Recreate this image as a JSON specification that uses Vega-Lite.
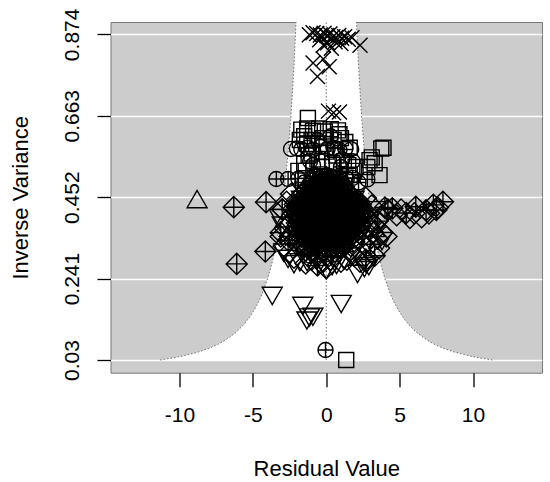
{
  "$schema": "https://vega.github.io/schema/vega-lite/v6.json",
  "width": 431.5,
  "height": 350.7,
  "autosize": "none",
  "padding": {"left": 110.5, "top": 22, "right": 8, "bottom": 109.3},
  "config": {
    "view": {"fill": "#cccccc", "stroke": "#777777", "strokeWidth": 1},
    "font": "Liberation Sans",
    "axis": {
      "labelFont": "Liberation Sans",
      "labelFontSize": 21,
      "labelColor": "#000000",
      "titleFont": "Liberation Sans",
      "titleFontSize": 22,
      "titleFontWeight": "normal",
      "titleColor": "#000000",
      "tickColor": "#000000",
      "tickWidth": 1.3,
      "domain": false
    }
  },
  "datasets": {
    "funnel": [
      {"fy": 0.03, "lo": -11.316, "hi": 11.316},
      {"fy": 0.035, "lo": -10.477, "hi": 10.477},
      {"fy": 0.04, "lo": -9.8, "hi": 9.8},
      {"fy": 0.05, "lo": -8.765, "hi": 8.765},
      {"fy": 0.06, "lo": -8.002, "hi": 8.002},
      {"fy": 0.07, "lo": -7.408, "hi": 7.408},
      {"fy": 0.08, "lo": -6.93, "hi": 6.93},
      {"fy": 0.1, "lo": -6.198, "hi": 6.198},
      {"fy": 0.12, "lo": -5.658, "hi": 5.658},
      {"fy": 0.14, "lo": -5.238, "hi": 5.238},
      {"fy": 0.16, "lo": -4.9, "hi": 4.9},
      {"fy": 0.18, "lo": -4.62, "hi": 4.62},
      {"fy": 0.2, "lo": -4.383, "hi": 4.383},
      {"fy": 0.24, "lo": -4.001, "hi": 4.001},
      {"fy": 0.28, "lo": -3.704, "hi": 3.704},
      {"fy": 0.32, "lo": -3.465, "hi": 3.465},
      {"fy": 0.36, "lo": -3.267, "hi": 3.267},
      {"fy": 0.4, "lo": -3.099, "hi": 3.099},
      {"fy": 0.45, "lo": -2.922, "hi": 2.922},
      {"fy": 0.5, "lo": -2.772, "hi": 2.772},
      {"fy": 0.55, "lo": -2.643, "hi": 2.643},
      {"fy": 0.6, "lo": -2.53, "hi": 2.53},
      {"fy": 0.65, "lo": -2.431, "hi": 2.431},
      {"fy": 0.7, "lo": -2.343, "hi": 2.343},
      {"fy": 0.75, "lo": -2.263, "hi": 2.263},
      {"fy": 0.8, "lo": -2.191, "hi": 2.191},
      {"fy": 0.85, "lo": -2.126, "hi": 2.126},
      {"fy": 0.906, "lo": -2.059, "hi": 2.059}
    ],
    "centre": [{"x": 0, "y1": 0.03, "y2": 0.906}],
    "pts": [
      {"x":-1.15,"y":0.873,"s":"x"},{"x":-0.9,"y":0.878,"s":"x"},{"x":-0.65,"y":0.876,"s":"x"},{"x":-0.4,"y":0.872,"s":"x"},
      {"x":-0.15,"y":0.877,"s":"x"},{"x":0.05,"y":0.871,"s":"x"},{"x":0.25,"y":0.875,"s":"x"},{"x":0.45,"y":0.868,"s":"x"},
      {"x":0.65,"y":0.866,"s":"x"},{"x":0.85,"y":0.871,"s":"x"},{"x":1.05,"y":0.864,"s":"x"},{"x":1.25,"y":0.868,"s":"x"},
      {"x":1.5,"y":0.861,"s":"x"},{"x":1.75,"y":0.865,"s":"x"},{"x":2.3,"y":0.846,"s":"x"},{"x":-0.45,"y":0.86,"s":"x"},
      {"x":0.1,"y":0.852,"s":"x"},{"x":0.35,"y":0.838,"s":"x"},{"x":-0.2,"y":0.846,"s":"x"},{"x":0.6,"y":0.855,"s":"x"},
      {"x":1.0,"y":0.85,"s":"x"},{"x":-0.9,"y":0.8,"s":"x"},{"x":0.2,"y":0.79,"s":"x"},{"x":-0.6,"y":0.765,"s":"x"},
      {"x":-0.2,"y":0.81,"s":"x"},{"x":0.15,"y":0.675,"s":"x"},{"x":0.5,"y":0.671,"s":"x"},{"x":0.9,"y":0.673,"s":"x"},

      {"x":-1.25,"y":0.657,"s":"sq"},{"x":-1.7,"y":0.627,"s":"sq"},{"x":-1.3,"y":0.63,"s":"sq"},{"x":-0.9,"y":0.624,"s":"sq"},
      {"x":-0.5,"y":0.63,"s":"sq"},{"x":-0.1,"y":0.622,"s":"sq"},{"x":0.3,"y":0.628,"s":"sq"},{"x":0.8,"y":0.625,"s":"sq"},
      {"x":-1.5,"y":0.61,"s":"sq"},{"x":-1.0,"y":0.6,"s":"sq"},{"x":-0.2,"y":0.605,"s":"sq"},{"x":0.5,"y":0.6,"s":"sq"},
      {"x":1.0,"y":0.605,"s":"sq"},{"x":1.3,"y":0.595,"s":"sq"},{"x":1.6,"y":0.58,"s":"sq"},{"x":-1.8,"y":0.6,"s":"sq"},
      {"x":3.75,"y":0.578,"s":"sq"},{"x":3.9,"y":0.58,"s":"sq"},{"x":2.95,"y":0.548,"s":"sq"},{"x":3.3,"y":0.54,"s":"sq"},
      {"x":3.63,"y":0.509,"s":"sq"},{"x":2.8,"y":0.53,"s":"sq"},{"x":3.1,"y":0.555,"s":"sq"},
      {"x":-1.2,"y":0.56,"s":"sq"},{"x":0.0,"y":0.57,"s":"sq"},{"x":0.7,"y":0.56,"s":"sq"},{"x":-0.6,"y":0.55,"s":"sq"},
      {"x":1.2,"y":0.545,"s":"sq"},{"x":-1.4,"y":0.52,"s":"sq"},{"x":2.0,"y":0.53,"s":"sq"},{"x":-0.3,"y":0.53,"s":"sq"},
      {"x":1.6,"y":0.51,"s":"sq"},{"x":-1.6,"y":0.495,"s":"sq"},{"x":0.9,"y":0.5,"s":"sq"},{"x":1.36,"y":0.03,"s":"sq"},
      {"x":-1.5,"y":0.54,"s":"sq"},{"x":-0.9,"y":0.535,"s":"ci"},{"x":-0.3,"y":0.545,"s":"sq"},{"x":0.4,"y":0.54,"s":"sq"},
      {"x":1.0,"y":0.53,"s":"cp"},{"x":1.5,"y":0.535,"s":"sq"},{"x":-1.0,"y":0.565,"s":"sq"},{"x":0.6,"y":0.575,"s":"sq"},
      {"x":-0.2,"y":0.59,"s":"sq"},{"x":0.9,"y":0.615,"s":"sq"},{"x":-1.3,"y":0.59,"s":"sq"},{"x":1.8,"y":0.545,"s":"ci"},
      {"x":1.9,"y":0.52,"s":"sq"},{"x":-1.9,"y":0.52,"s":"sq"},

      {"x":-2.4,"y":0.577,"s":"ci"},{"x":-2.0,"y":0.578,"s":"ci"},{"x":-1.7,"y":0.576,"s":"ci"},{"x":-1.3,"y":0.58,"s":"ci"},
      {"x":-0.9,"y":0.575,"s":"ci"},{"x":-0.4,"y":0.582,"s":"ci"},{"x":0.1,"y":0.578,"s":"ci"},{"x":0.5,"y":0.58,"s":"ci"},
      {"x":0.9,"y":0.574,"s":"ci"},{"x":1.3,"y":0.578,"s":"ci"},{"x":1.7,"y":0.576,"s":"ci"},{"x":-0.6,"y":0.6,"s":"ci"},
      {"x":0.3,"y":0.61,"s":"ci"},{"x":-1.1,"y":0.545,"s":"ci"},{"x":1.1,"y":0.55,"s":"ci"},{"x":0.2,"y":0.5,"s":"ci"},
      {"x":-0.8,"y":0.51,"s":"ci"},

      {"x":-3.4,"y":0.499,"s":"cp"},{"x":-2.6,"y":0.499,"s":"cp"},{"x":-1.9,"y":0.5,"s":"cp"},{"x":-1.5,"y":0.49,"s":"cp"},
      {"x":-0.9,"y":0.495,"s":"cp"},{"x":-0.3,"y":0.5,"s":"cp"},{"x":0.4,"y":0.49,"s":"cp"},{"x":1.0,"y":0.497,"s":"cp"},
      {"x":1.4,"y":0.5,"s":"cp"},{"x":1.8,"y":0.502,"s":"cp"},{"x":2.8,"y":0.498,"s":"cp"},{"x":2.2,"y":0.49,"s":"cp"},
      {"x":-0.05,"y":0.056,"s":"cp"},

      {"x":-6.3,"y":0.426,"s":"dp"},{"x":-4.1,"y":0.439,"s":"dp"},{"x":-4.15,"y":0.311,"s":"dp"},{"x":-6.1,"y":0.279,"s":"dp"},
      {"x":4.5,"y":0.423,"s":"dp"},{"x":4.2,"y":0.42,"s":"dp"},{"x":5.45,"y":0.411,"s":"dp"},{"x":6.1,"y":0.427,"s":"dp"},
      {"x":6.8,"y":0.418,"s":"dp"},{"x":7.3,"y":0.432,"s":"dp"},{"x":7.5,"y":0.419,"s":"dp"},{"x":7.95,"y":0.44,"s":"dp"},
      {"x":-3.0,"y":0.42,"s":"dp"},{"x":-2.5,"y":0.35,"s":"dp"},{"x":-2.0,"y":0.33,"s":"dp"},{"x":2.5,"y":0.35,"s":"dp"},
      {"x":3.0,"y":0.33,"s":"dp"},{"x":2.7,"y":0.285,"s":"dp"},{"x":-1.5,"y":0.42,"s":"dp"},{"x":1.5,"y":0.44,"s":"dp"},
      {"x":3.5,"y":0.39,"s":"dp"},{"x":-3.1,"y":0.36,"s":"dp"},{"x":0.0,"y":0.3,"s":"dp"},{"x":1.0,"y":0.32,"s":"dp"},
      {"x":-1.0,"y":0.31,"s":"dp"},

      {"x":-8.8,"y":0.445,"s":"tu"},{"x":-2.8,"y":0.395,"s":"tu"},{"x":-1.0,"y":0.45,"s":"tu"},{"x":0.5,"y":0.42,"s":"tu"},
      {"x":1.8,"y":0.38,"s":"tu"},{"x":3.3,"y":0.37,"s":"tu"},

      {"x":-3.68,"y":0.198,"s":"td"},{"x":-1.6,"y":0.172,"s":"td"},{"x":-1.14,"y":0.142,"s":"td"},{"x":-1.32,"y":0.134,"s":"td"},
      {"x":-0.91,"y":0.144,"s":"td"},{"x":1.02,"y":0.177,"s":"td"},{"x":-2.6,"y":0.294,"s":"td"},{"x":2.13,"y":0.255,"s":"td"},
      {"x":-3.0,"y":0.38,"s":"td"},{"x":-2.2,"y":0.28,"s":"td"},{"x":-1.3,"y":0.285,"s":"td"},{"x":-0.5,"y":0.28,"s":"td"},
      {"x":0.4,"y":0.275,"s":"td"},{"x":1.2,"y":0.29,"s":"td"},{"x":2.6,"y":0.27,"s":"td"},{"x":3.4,"y":0.42,"s":"td"},
      {"x":3.8,"y":0.34,"s":"td"},{"x":-2.9,"y":0.31,"s":"td"},{"x":0.0,"y":0.265,"s":"td"},{"x":1.7,"y":0.3,"s":"td"},

      {"x":-3.0,"y":0.42,"s":"di"},{"x":-3.2,"y":0.4,"s":"td"},{"x":-2.8,"y":0.37,"s":"di"},{"x":-3.1,"y":0.35,"s":"di"},
      {"x":-2.6,"y":0.34,"s":"dp"},{"x":-2.9,"y":0.325,"s":"di"},{"x":-2.5,"y":0.31,"s":"di"},{"x":-2.7,"y":0.44,"s":"di"},
      {"x":-2.4,"y":0.46,"s":"di"},{"x":-2.2,"y":0.295,"s":"di"},{"x":-1.8,"y":0.285,"s":"td"},{"x":-1.4,"y":0.28,"s":"di"},
      {"x":-1.0,"y":0.29,"s":"di"},{"x":-0.6,"y":0.275,"s":"dp"},{"x":-0.2,"y":0.285,"s":"di"},{"x":0.0,"y":0.268,"s":"di"},
      {"x":0.3,"y":0.29,"s":"di"},{"x":0.7,"y":0.278,"s":"td"},{"x":1.0,"y":0.285,"s":"di"},{"x":1.4,"y":0.29,"s":"di"},
      {"x":1.9,"y":0.3,"s":"di"},{"x":2.3,"y":0.285,"s":"di"},{"x":2.7,"y":0.29,"s":"dp"},{"x":2.9,"y":0.275,"s":"td"},
      {"x":-1.1,"y":0.3,"s":"cp"},{"x":2.6,"y":0.33,"s":"di"},{"x":2.9,"y":0.35,"s":"di"},{"x":3.2,"y":0.36,"s":"di"},
      {"x":3.5,"y":0.345,"s":"di"},{"x":3.8,"y":0.36,"s":"di"},{"x":4.1,"y":0.35,"s":"di"},{"x":3.3,"y":0.38,"s":"di"},
      {"x":3.7,"y":0.4,"s":"di"},{"x":2.8,"y":0.41,"s":"di"},{"x":3.1,"y":0.43,"s":"di"},{"x":4.0,"y":0.425,"s":"dp"},
      {"x":2.7,"y":0.45,"s":"di"},{"x":3.0,"y":0.39,"s":"di"},{"x":3.6,"y":0.32,"s":"di"},{"x":3.3,"y":0.3,"s":"dp"},
      {"x":4.8,"y":0.405,"s":"di"},{"x":5.1,"y":0.42,"s":"di"},{"x":5.7,"y":0.398,"s":"di"},{"x":6.0,"y":0.41,"s":"di"},
      {"x":6.5,"y":0.4,"s":"di"},{"x":7.0,"y":0.41,"s":"di"},{"x":7.6,"y":0.425,"s":"di"},

      {"x":-0.6,"y":0.505,"s":"sq"},{"x":-0.3,"y":0.507,"s":"ci"},{"x":0.0,"y":0.504,"s":"dp"},{"x":0.3,"y":0.506,"s":"cp"},{"x":0.6,"y":0.503,"s":"sq"},
      {"x":-0.9,"y":0.493,"s":"dp"},{"x":-0.6,"y":0.491,"s":"cp"},{"x":-0.3,"y":0.494,"s":"dp"},{"x":0.0,"y":0.492,"s":"sq"},{"x":0.3,"y":0.495,"s":"dp"},{"x":0.6,"y":0.49,"s":"ci"},{"x":0.9,"y":0.493,"s":"dp"},
      {"x":-1.15,"y":0.481,"s":"di"},{"x":-0.85,"y":0.483,"s":"dp"},{"x":-0.55,"y":0.48,"s":"sq"},{"x":-0.25,"y":0.482,"s":"dp"},{"x":0.05,"y":0.479,"s":"cp"},{"x":0.35,"y":0.483,"s":"dp"},{"x":0.65,"y":0.48,"s":"dp"},{"x":0.95,"y":0.482,"s":"sq"},{"x":1.2,"y":0.479,"s":"di"},
      {"x":-1.4,"y":0.469,"s":"di"},{"x":-1.1,"y":0.471,"s":"cp"},{"x":-0.8,"y":0.468,"s":"dp"},{"x":-0.5,"y":0.47,"s":"dp"},{"x":-0.2,"y":0.467,"s":"dp"},{"x":0.1,"y":0.471,"s":"sq"},{"x":0.4,"y":0.468,"s":"dp"},{"x":0.7,"y":0.47,"s":"dp"},{"x":1.0,"y":0.467,"s":"cp"},{"x":1.3,"y":0.469,"s":"di"},
      {"x":-1.7,"y":0.457,"s":"di"},{"x":-1.4,"y":0.455,"s":"dp"},{"x":-1.1,"y":0.458,"s":"dp"},{"x":-0.8,"y":0.456,"s":"sq"},{"x":-0.5,"y":0.459,"s":"dp"},{"x":-0.2,"y":0.456,"s":"dp"},{"x":0.1,"y":0.458,"s":"dp"},{"x":0.4,"y":0.455,"s":"cp"},{"x":0.7,"y":0.458,"s":"dp"},{"x":1.0,"y":0.456,"s":"dp"},{"x":1.3,"y":0.459,"s":"dp"},{"x":1.65,"y":0.456,"s":"di"},
      {"x":-2.0,"y":0.445,"s":"di"},{"x":-1.7,"y":0.447,"s":"td"},{"x":-1.4,"y":0.444,"s":"dp"},{"x":-1.1,"y":0.446,"s":"dp"},{"x":-0.8,"y":0.443,"s":"dp"},{"x":-0.5,"y":0.446,"s":"cp"},{"x":-0.2,"y":0.444,"s":"dp"},{"x":0.1,"y":0.447,"s":"dp"},{"x":0.4,"y":0.444,"s":"dp"},{"x":0.7,"y":0.446,"s":"sq"},{"x":1.0,"y":0.443,"s":"dp"},{"x":1.3,"y":0.446,"s":"dp"},{"x":1.6,"y":0.444,"s":"dp"},{"x":1.9,"y":0.447,"s":"td"},{"x":2.15,"y":0.444,"s":"di"},
      {"x":-2.15,"y":0.433,"s":"di"},{"x":-1.85,"y":0.431,"s":"di"},{"x":-1.55,"y":0.434,"s":"dp"},{"x":-1.25,"y":0.432,"s":"dp"},{"x":-0.95,"y":0.435,"s":"dp"},{"x":-0.65,"y":0.432,"s":"dp"},{"x":-0.35,"y":0.434,"s":"dp"},{"x":-0.05,"y":0.431,"s":"td"},{"x":0.25,"y":0.434,"s":"dp"},{"x":0.55,"y":0.432,"s":"dp"},{"x":0.85,"y":0.435,"s":"dp"},{"x":1.15,"y":0.432,"s":"dp"},{"x":1.45,"y":0.434,"s":"dp"},{"x":1.75,"y":0.431,"s":"dp"},{"x":2.05,"y":0.434,"s":"di"},{"x":2.35,"y":0.432,"s":"di"},
      {"x":-2.25,"y":0.421,"s":"di"},{"x":-1.95,"y":0.423,"s":"di"},{"x":-1.65,"y":0.42,"s":"dp"},{"x":-1.35,"y":0.422,"s":"td"},{"x":-1.05,"y":0.419,"s":"dp"},{"x":-0.75,"y":0.422,"s":"dp"},{"x":-0.45,"y":0.42,"s":"dp"},{"x":-0.15,"y":0.423,"s":"dp"},{"x":0.15,"y":0.42,"s":"dp"},{"x":0.45,"y":0.422,"s":"dp"},{"x":0.75,"y":0.419,"s":"dp"},{"x":1.05,"y":0.422,"s":"td"},{"x":1.35,"y":0.42,"s":"dp"},{"x":1.65,"y":0.423,"s":"dp"},{"x":1.95,"y":0.42,"s":"dp"},{"x":2.25,"y":0.422,"s":"di"},{"x":2.5,"y":0.419,"s":"di"},
      {"x":-2.2,"y":0.409,"s":"di"},{"x":-1.9,"y":0.407,"s":"dp"},{"x":-1.6,"y":0.41,"s":"dp"},{"x":-1.3,"y":0.408,"s":"dp"},{"x":-1.0,"y":0.411,"s":"dp"},{"x":-0.7,"y":0.408,"s":"td"},{"x":-0.4,"y":0.41,"s":"dp"},{"x":-0.1,"y":0.407,"s":"dp"},{"x":0.2,"y":0.41,"s":"dp"},{"x":0.5,"y":0.408,"s":"dp"},{"x":0.8,"y":0.411,"s":"dp"},{"x":1.1,"y":0.408,"s":"dp"},{"x":1.4,"y":0.41,"s":"td"},{"x":1.7,"y":0.407,"s":"dp"},{"x":2.0,"y":0.41,"s":"dp"},{"x":2.3,"y":0.408,"s":"di"},{"x":2.55,"y":0.411,"s":"di"},
      {"x":-2.1,"y":0.397,"s":"di"},{"x":-1.8,"y":0.399,"s":"di"},{"x":-1.5,"y":0.396,"s":"td"},{"x":-1.2,"y":0.398,"s":"dp"},{"x":-0.9,"y":0.395,"s":"dp"},{"x":-0.6,"y":0.398,"s":"dp"},{"x":-0.3,"y":0.396,"s":"dp"},{"x":0.0,"y":0.399,"s":"dp"},{"x":0.3,"y":0.396,"s":"td"},{"x":0.6,"y":0.398,"s":"dp"},{"x":0.9,"y":0.395,"s":"dp"},{"x":1.2,"y":0.398,"s":"dp"},{"x":1.5,"y":0.396,"s":"dp"},{"x":1.8,"y":0.399,"s":"dp"},{"x":2.1,"y":0.396,"s":"di"},{"x":2.4,"y":0.398,"s":"td"},
      {"x":-2.0,"y":0.385,"s":"di"},{"x":-1.7,"y":0.383,"s":"dp"},{"x":-1.4,"y":0.386,"s":"dp"},{"x":-1.1,"y":0.384,"s":"td"},{"x":-0.8,"y":0.387,"s":"dp"},{"x":-0.5,"y":0.384,"s":"dp"},{"x":-0.2,"y":0.386,"s":"dp"},{"x":0.1,"y":0.383,"s":"dp"},{"x":0.4,"y":0.386,"s":"dp"},{"x":0.7,"y":0.384,"s":"dp"},{"x":1.0,"y":0.387,"s":"td"},{"x":1.3,"y":0.384,"s":"dp"},{"x":1.6,"y":0.386,"s":"dp"},{"x":1.9,"y":0.383,"s":"di"},{"x":2.3,"y":0.385,"s":"dp"},
      {"x":-1.9,"y":0.373,"s":"di"},{"x":-1.6,"y":0.375,"s":"td"},{"x":-1.3,"y":0.372,"s":"dp"},{"x":-1.0,"y":0.374,"s":"dp"},{"x":-0.7,"y":0.371,"s":"dp"},{"x":-0.4,"y":0.374,"s":"dp"},{"x":-0.1,"y":0.372,"s":"dp"},{"x":0.2,"y":0.375,"s":"dp"},{"x":0.5,"y":0.372,"s":"dp"},{"x":0.8,"y":0.374,"s":"td"},{"x":1.1,"y":0.371,"s":"dp"},{"x":1.4,"y":0.374,"s":"dp"},{"x":1.7,"y":0.372,"s":"dp"},{"x":2.0,"y":0.375,"s":"di"},{"x":2.2,"y":0.371,"s":"di"},
      {"x":-1.8,"y":0.361,"s":"di"},{"x":-1.5,"y":0.363,"s":"di"},{"x":-1.2,"y":0.36,"s":"dp"},{"x":-0.9,"y":0.362,"s":"dp"},{"x":-0.6,"y":0.359,"s":"dp"},{"x":-0.3,"y":0.362,"s":"td"},{"x":0.0,"y":0.36,"s":"dp"},{"x":0.3,"y":0.363,"s":"dp"},{"x":0.6,"y":0.36,"s":"dp"},{"x":0.9,"y":0.362,"s":"dp"},{"x":1.2,"y":0.359,"s":"dp"},{"x":1.5,"y":0.362,"s":"di"},{"x":1.8,"y":0.36,"s":"td"},{"x":2.1,"y":0.363,"s":"di"},
      {"x":-1.7,"y":0.349,"s":"di"},{"x":-1.4,"y":0.347,"s":"td"},{"x":-1.1,"y":0.35,"s":"dp"},{"x":-0.8,"y":0.348,"s":"dp"},{"x":-0.5,"y":0.351,"s":"dp"},{"x":-0.2,"y":0.348,"s":"dp"},{"x":0.1,"y":0.35,"s":"dp"},{"x":0.4,"y":0.347,"s":"dp"},{"x":0.7,"y":0.35,"s":"td"},{"x":1.0,"y":0.348,"s":"dp"},{"x":1.3,"y":0.351,"s":"di"},{"x":1.6,"y":0.348,"s":"di"},{"x":2.0,"y":0.35,"s":"di"},
      {"x":-1.6,"y":0.337,"s":"di"},{"x":-1.3,"y":0.339,"s":"di"},{"x":-1.0,"y":0.336,"s":"td"},{"x":-0.7,"y":0.338,"s":"dp"},{"x":-0.4,"y":0.335,"s":"dp"},{"x":-0.1,"y":0.338,"s":"dp"},{"x":0.2,"y":0.336,"s":"dp"},{"x":0.5,"y":0.339,"s":"dp"},{"x":0.8,"y":0.336,"s":"di"},{"x":1.1,"y":0.338,"s":"di"},{"x":1.4,"y":0.335,"s":"td"},{"x":1.9,"y":0.338,"s":"di"},
      {"x":-1.5,"y":0.325,"s":"di"},{"x":-1.2,"y":0.323,"s":"di"},{"x":-0.9,"y":0.326,"s":"di"},{"x":-0.6,"y":0.324,"s":"td"},{"x":-0.3,"y":0.327,"s":"di"},{"x":0.0,"y":0.324,"s":"dp"},{"x":0.3,"y":0.326,"s":"di"},{"x":0.6,"y":0.323,"s":"dp"},{"x":0.9,"y":0.326,"s":"di"},{"x":1.2,"y":0.324,"s":"di"},{"x":1.7,"y":0.325,"s":"di"},
      {"x":-1.4,"y":0.313,"s":"di"},{"x":-1.0,"y":0.311,"s":"di"},{"x":-0.6,"y":0.314,"s":"td"},{"x":-0.2,"y":0.312,"s":"di"},{"x":0.2,"y":0.314,"s":"di"},{"x":0.6,"y":0.311,"s":"di"},{"x":1.0,"y":0.313,"s":"td"},{"x":1.6,"y":0.312,"s":"di"},

      {"x":-0.45,"y":0.499,"s":"dp"},{"x":-0.15,"y":0.498,"s":"cp"},{"x":0.15,"y":0.5,"s":"dp"},{"x":0.45,"y":0.498,"s":"sq"},
      {"x":-0.75,"y":0.487,"s":"dp"},{"x":-0.45,"y":0.486,"s":"dp"},{"x":-0.15,"y":0.488,"s":"dp"},{"x":0.15,"y":0.486,"s":"cp"},{"x":0.45,"y":0.488,"s":"dp"},{"x":0.75,"y":0.486,"s":"dp"},
      {"x":-1.0,"y":0.475,"s":"dp"},{"x":-0.7,"y":0.476,"s":"dp"},{"x":-0.4,"y":0.474,"s":"cp"},{"x":-0.1,"y":0.476,"s":"dp"},{"x":0.2,"y":0.474,"s":"dp"},{"x":0.5,"y":0.476,"s":"dp"},{"x":0.8,"y":0.474,"s":"cp"},{"x":1.1,"y":0.476,"s":"dp"},
      {"x":-1.25,"y":0.463,"s":"dp"},{"x":-0.95,"y":0.462,"s":"dp"},{"x":-0.65,"y":0.464,"s":"dp"},{"x":-0.35,"y":0.462,"s":"dp"},{"x":-0.05,"y":0.464,"s":"cp"},{"x":0.25,"y":0.462,"s":"dp"},{"x":0.55,"y":0.464,"s":"dp"},{"x":0.85,"y":0.462,"s":"dp"},{"x":1.15,"y":0.464,"s":"dp"},{"x":1.45,"y":0.462,"s":"dp"},
      {"x":-1.55,"y":0.451,"s":"dp"},{"x":-1.25,"y":0.452,"s":"dp"},{"x":-0.95,"y":0.45,"s":"dp"},{"x":-0.65,"y":0.452,"s":"dp"},{"x":-0.35,"y":0.45,"s":"dp"},{"x":-0.05,"y":0.452,"s":"dp"},{"x":0.25,"y":0.45,"s":"cp"},{"x":0.55,"y":0.452,"s":"dp"},{"x":0.85,"y":0.45,"s":"dp"},{"x":1.15,"y":0.452,"s":"dp"},{"x":1.45,"y":0.45,"s":"dp"},{"x":1.8,"y":0.452,"s":"dp"},
      {"x":-1.85,"y":0.439,"s":"dp"},{"x":-1.55,"y":0.44,"s":"dp"},{"x":-1.25,"y":0.438,"s":"dp"},{"x":-0.95,"y":0.44,"s":"dp"},{"x":-0.65,"y":0.438,"s":"dp"},{"x":-0.35,"y":0.44,"s":"dp"},{"x":-0.05,"y":0.438,"s":"dp"},{"x":0.25,"y":0.44,"s":"dp"},{"x":0.55,"y":0.438,"s":"dp"},{"x":0.85,"y":0.44,"s":"dp"},{"x":1.15,"y":0.438,"s":"dp"},{"x":1.45,"y":0.44,"s":"dp"},{"x":1.75,"y":0.438,"s":"dp"},{"x":2.05,"y":0.44,"s":"dp"},
      {"x":-2.0,"y":0.427,"s":"dp"},{"x":-1.7,"y":0.428,"s":"dp"},{"x":-1.4,"y":0.426,"s":"dp"},{"x":-1.1,"y":0.428,"s":"dp"},{"x":-0.8,"y":0.426,"s":"dp"},{"x":-0.5,"y":0.428,"s":"dp"},{"x":-0.2,"y":0.426,"s":"dp"},{"x":0.1,"y":0.428,"s":"dp"},{"x":0.4,"y":0.426,"s":"dp"},{"x":0.7,"y":0.428,"s":"dp"},{"x":1.0,"y":0.426,"s":"dp"},{"x":1.3,"y":0.428,"s":"dp"},{"x":1.6,"y":0.426,"s":"dp"},{"x":1.9,"y":0.428,"s":"dp"},{"x":2.2,"y":0.426,"s":"dp"},
      {"x":-2.05,"y":0.415,"s":"dp"},{"x":-1.75,"y":0.414,"s":"dp"},{"x":-1.45,"y":0.416,"s":"dp"},{"x":-1.15,"y":0.414,"s":"dp"},{"x":-0.85,"y":0.416,"s":"dp"},{"x":-0.55,"y":0.414,"s":"dp"},{"x":-0.25,"y":0.416,"s":"dp"},{"x":0.05,"y":0.414,"s":"dp"},{"x":0.35,"y":0.416,"s":"dp"},{"x":0.65,"y":0.414,"s":"dp"},{"x":0.95,"y":0.416,"s":"dp"},{"x":1.25,"y":0.414,"s":"dp"},{"x":1.55,"y":0.416,"s":"dp"},{"x":1.85,"y":0.414,"s":"dp"},{"x":2.15,"y":0.416,"s":"dp"},{"x":2.4,"y":0.414,"s":"di"},
      {"x":-1.95,"y":0.403,"s":"dp"},{"x":-1.65,"y":0.404,"s":"dp"},{"x":-1.35,"y":0.402,"s":"dp"},{"x":-1.05,"y":0.404,"s":"dp"},{"x":-0.75,"y":0.402,"s":"dp"},{"x":-0.45,"y":0.404,"s":"dp"},{"x":-0.15,"y":0.402,"s":"dp"},{"x":0.15,"y":0.404,"s":"dp"},{"x":0.45,"y":0.402,"s":"dp"},{"x":0.75,"y":0.404,"s":"dp"},{"x":1.05,"y":0.402,"s":"dp"},{"x":1.35,"y":0.404,"s":"dp"},{"x":1.65,"y":0.402,"s":"dp"},{"x":1.95,"y":0.404,"s":"dp"},{"x":2.25,"y":0.402,"s":"di"},
      {"x":-1.85,"y":0.391,"s":"dp"},{"x":-1.55,"y":0.39,"s":"dp"},{"x":-1.25,"y":0.392,"s":"dp"},{"x":-0.95,"y":0.39,"s":"dp"},{"x":-0.65,"y":0.392,"s":"dp"},{"x":-0.35,"y":0.39,"s":"dp"},{"x":-0.05,"y":0.392,"s":"dp"},{"x":0.25,"y":0.39,"s":"dp"},{"x":0.55,"y":0.392,"s":"dp"},{"x":0.85,"y":0.39,"s":"dp"},{"x":1.15,"y":0.392,"s":"dp"},{"x":1.45,"y":0.39,"s":"dp"},{"x":1.75,"y":0.392,"s":"dp"},{"x":2.05,"y":0.39,"s":"di"},
      {"x":-1.75,"y":0.379,"s":"dp"},{"x":-1.45,"y":0.38,"s":"dp"},{"x":-1.15,"y":0.378,"s":"dp"},{"x":-0.85,"y":0.38,"s":"dp"},{"x":-0.55,"y":0.378,"s":"dp"},{"x":-0.25,"y":0.38,"s":"dp"},{"x":0.05,"y":0.378,"s":"dp"},{"x":0.35,"y":0.38,"s":"dp"},{"x":0.65,"y":0.378,"s":"dp"},{"x":0.95,"y":0.38,"s":"dp"},{"x":1.25,"y":0.378,"s":"dp"},{"x":1.55,"y":0.38,"s":"dp"},{"x":1.85,"y":0.378,"s":"di"},
      {"x":-1.6,"y":0.367,"s":"dp"},{"x":-1.3,"y":0.366,"s":"dp"},{"x":-1.0,"y":0.368,"s":"dp"},{"x":-0.7,"y":0.366,"s":"dp"},{"x":-0.4,"y":0.368,"s":"dp"},{"x":-0.1,"y":0.366,"s":"dp"},{"x":0.2,"y":0.368,"s":"dp"},{"x":0.5,"y":0.366,"s":"dp"},{"x":0.8,"y":0.368,"s":"dp"},{"x":1.1,"y":0.366,"s":"dp"},{"x":1.4,"y":0.368,"s":"dp"},{"x":1.7,"y":0.366,"s":"di"},
      {"x":-1.5,"y":0.355,"s":"dp"},{"x":-1.2,"y":0.356,"s":"dp"},{"x":-0.9,"y":0.354,"s":"dp"},{"x":-0.6,"y":0.356,"s":"dp"},{"x":-0.3,"y":0.354,"s":"dp"},{"x":0.0,"y":0.356,"s":"dp"},{"x":0.3,"y":0.354,"s":"dp"},{"x":0.6,"y":0.356,"s":"dp"},{"x":0.9,"y":0.354,"s":"dp"},{"x":1.2,"y":0.356,"s":"dp"},{"x":1.5,"y":0.354,"s":"di"},
      {"x":-1.3,"y":0.343,"s":"dp"},{"x":-1.0,"y":0.342,"s":"dp"},{"x":-0.7,"y":0.344,"s":"dp"},{"x":-0.4,"y":0.342,"s":"dp"},{"x":-0.1,"y":0.344,"s":"dp"},{"x":0.2,"y":0.342,"s":"dp"},{"x":0.5,"y":0.344,"s":"dp"},{"x":0.8,"y":0.342,"s":"dp"},{"x":1.1,"y":0.344,"s":"dp"},{"x":1.4,"y":0.342,"s":"di"}
    ]
  },
  "encoding": {
    "x": {
      "type": "quantitative",
      "scale": {"domain": [-14.7, 14.7], "nice": false, "zero": false},
      "axis": {
        "values": [-10, -5, 0, 5, 10],
        "labelExpr": "'' + datum.value",
        "grid": false,
        "tickSize": 14,
        "labelPadding": 18,
        "title": "Residual Value",
        "titleBaseline": "alphabetic",
        "titleX": 215.75,
        "titleY": 102.3,
        "titleAlign": "center"
      }
    },
    "y": {
      "type": "quantitative",
      "scale": {"domain": [-0.003, 0.906], "nice": false, "zero": false},
      "axis": {
        "values": [0.03, 0.241, 0.452, 0.663, 0.874],
        "format": ".3~f",
        "grid": true,
        "gridColor": "#ffffff",
        "gridWidth": 1.6,
        "gridOpacity": 1,
        "tickSize": 13.5,
        "labelAngle": -90,
        "labelAlign": "center",
        "labelBaseline": "bottom",
        "labelPadding": 15,
        "title": "Inverse Variance",
        "titleAngle": -90,
        "titleBaseline": "alphabetic",
        "titleAlign": "center",
        "titleX": -83.2,
        "titleY": 175.35
      }
    }
  },
  "layer": [
    {
      "data": {"name": "funnel"},
      "mark": {"type": "area", "orient": "horizontal", "color": "#ffffff", "opacity": 1},
      "encoding": {
        "y": {"field": "fy"},
        "x": {"field": "lo"},
        "x2": {"field": "hi"}
      }
    },
    {
      "data": {"name": "funnel"},
      "mark": {"type": "line", "color": "#6e6e6e", "strokeWidth": 1, "strokeDash": [1.5, 2]},
      "encoding": {
        "y": {"field": "fy"},
        "x": {"field": "lo"},
        "order": {"field": "fy"}
      }
    },
    {
      "data": {"name": "funnel"},
      "mark": {"type": "line", "color": "#6e6e6e", "strokeWidth": 1, "strokeDash": [1.5, 2]},
      "encoding": {
        "y": {"field": "fy"},
        "x": {"field": "hi"},
        "order": {"field": "fy"}
      }
    },
    {
      "data": {"name": "centre"},
      "mark": {"type": "rule", "color": "#6e6e6e", "strokeWidth": 1, "strokeDash": [1.5, 2]},
      "encoding": {
        "x": {"field": "x"},
        "y": {"field": "y1"},
        "y2": {"field": "y2"}
      }
    },
    {
      "data": {"name": "pts"},
      "mark": {"type": "point", "filled": false, "color": "#000000", "size": 225, "strokeWidth": 1.4, "opacity": 1},
      "encoding": {
        "x": {"field": "x"},
        "y": {"field": "y"},
        "shape": {
          "field": "s",
          "type": "nominal",
          "legend": null,
          "scale": {
            "domain": ["x", "sq", "ci", "cp", "dp", "tu", "td", "di"],
            "range": [
              "M-1,-1L1,1M-1,1L1,-1",
              "M-1,-1L1,-1L1,1L-1,1Z",
              "M-1,0A1,1,0,1,1,1,0A1,1,0,1,1,-1,0Z",
              "M-1,0A1,1,0,1,1,1,0A1,1,0,1,1,-1,0ZM-1,0L1,0M0,-1L0,1",
              "M0,-1.41L1.41,0L0,1.41L-1.41,0ZM-1.41,0L1.41,0M0,-1.41L0,1.41",
              "M0,-1.25L1.33,1.05L-1.33,1.05Z",
              "M0,1.25L1.33,-1.05L-1.33,-1.05Z",
              "M0,-1.41L1.41,0L0,1.41L-1.41,0Z"
            ]
          }
        }
      }
    }
  ]
}
